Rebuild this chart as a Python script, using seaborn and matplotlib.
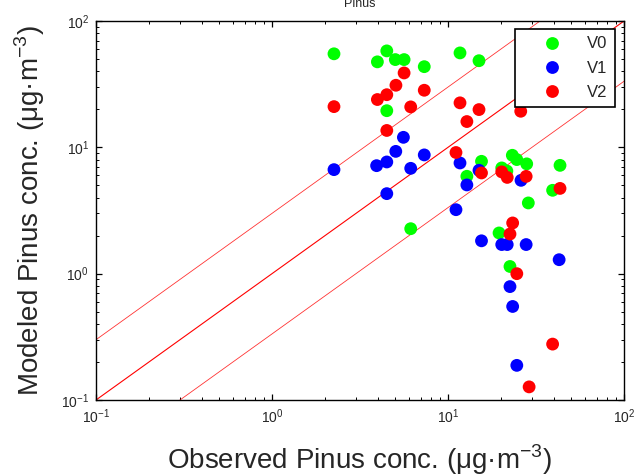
import numpy as np
import pandas as pd
import matplotlib
matplotlib.use('Agg')
import matplotlib.pyplot as plt
from matplotlib.ticker import LogLocator, NullFormatter
import seaborn as sns

# observed / modeled concentrations
v0_obs = [2.25, 3.97, 4.49, 5.02, 5.63, 7.33, 11.7, 15.0, 4.49, 15.5, 12.8, 20.2,
          21.6, 23.2, 24.6, 28.0, 43.3, 39.3, 28.6, 6.14, 19.5, 22.5]
v0_mod = [55, 47.5, 58, 49.5, 49.5, 43.5, 55.9, 48.5, 19.5, 7.75, 5.9, 6.87,
          6.5, 8.65, 8.0, 7.4, 7.2, 4.57, 3.63, 2.27, 2.1, 1.14]

v1_obs = [2.25, 3.93, 4.49, 5.05, 5.58, 4.49, 6.14, 7.33, 11.7, 12.8, 15.0, 26.0,
          11.1, 15.5, 20.2, 21.7, 27.8, 42.8, 22.5, 23.3, 24.6]
v1_mod = [6.66, 7.16, 7.66, 9.29, 12.0, 4.30, 6.82, 8.71, 7.52, 5.04, 6.58, 5.48,
          3.21, 1.82, 1.70, 1.70, 1.70, 1.29, 0.79, 0.55, 0.188]

v2_obs = [2.25, 3.97, 4.49, 5.06, 5.63, 6.14, 7.33, 4.49, 11.7, 15.0, 12.8, 25.9,
          11.1, 15.5, 20.2, 21.7, 27.8, 43.3, 23.3, 22.5, 24.6, 39.3, 28.9]
v2_mod = [21, 23.9, 26.1, 31.0, 38.8, 20.9, 28.3, 13.6, 22.5, 19.9, 16.0, 19.3,
          9.1, 6.27, 6.39, 5.78, 5.89, 4.73, 2.52, 2.06, 1.0, 0.277, 0.127]

series = ['V0', 'V1', 'V2']
colors = {'V0': '#00ff00', 'V1': '#0000ff', 'V2': '#ff0000'}

df = pd.concat([
    pd.DataFrame({'observed': v0_obs, 'modeled': v0_mod, 'series': 'V0'}),
    pd.DataFrame({'observed': v1_obs, 'modeled': v1_mod, 'series': 'V1'}),
    pd.DataFrame({'observed': v2_obs, 'modeled': v2_mod, 'series': 'V2'}),
], ignore_index=True)

sns.set_style('ticks')
plt.rcParams['font.family'] = ['Liberation Sans', 'DejaVu Sans']

fig = plt.figure(figsize=(6.44, 4.76), dpi=100)
ax = fig.add_axes([96/644, 76/476, 528/644, 379/476])

# 1:1, 3:1 and 1:3 lines
xx = np.array([0.1, 100])
ax.plot(xx, xx * 3, color='red', lw=0.6, alpha=0.8, zorder=1)
ax.plot(xx, xx, color='red', lw=0.8, zorder=1)
ax.plot(xx, xx / 3, color='red', lw=0.6, alpha=0.8, zorder=1)

sns.scatterplot(data=df, x='observed', y='modeled', hue='series', palette=colors,
                hue_order=series, s=85, linewidth=0, ax=ax, zorder=3)

ax.set_xscale('log')
ax.set_yscale('log')
ax.set_xlim(0.1, 100)
ax.set_ylim(0.1, 100)
for axis in (ax.xaxis, ax.yaxis):
    axis.set_major_locator(LogLocator(base=10, numticks=10))
    axis.set_minor_locator(LogLocator(base=10, subs=np.arange(2, 10), numticks=30))
    axis.set_minor_formatter(NullFormatter())

for sp in ax.spines.values():
    sp.set_linewidth(1.0)
    sp.set_color('black')
ax.tick_params(which='both', direction='in', top=True, right=True, labelsize=10,
               color='black')
ax.tick_params(which='major', length=4.5, width=0.9, pad=5)
ax.tick_params(which='minor', length=2.5, width=0.7)

ax.set_xlabel('Observed Pinus conc. (\u03bcg\u00b7m$^{\\mathregular{-3}}$)', fontsize=20, labelpad=12)
ax.set_ylabel('Modeled Pinus conc. (\u03bcg\u00b7m$^{\\mathregular{-3}}$)', fontsize=20, labelpad=10)
ax.set_title('Pinus', fontsize=9, pad=10)

leg = ax.legend(loc='upper right', bbox_to_anchor=(0.983, 0.979), borderaxespad=0,
                fontsize=12, handlelength=3.6, handletextpad=0.3, labelspacing=0.55,
                borderpad=0.45, fancybox=False, framealpha=1, edgecolor='black',
                markerscale=1.0)
leg.get_frame().set_linewidth(1.2)

fig.savefig('out.png', dpi=100)
